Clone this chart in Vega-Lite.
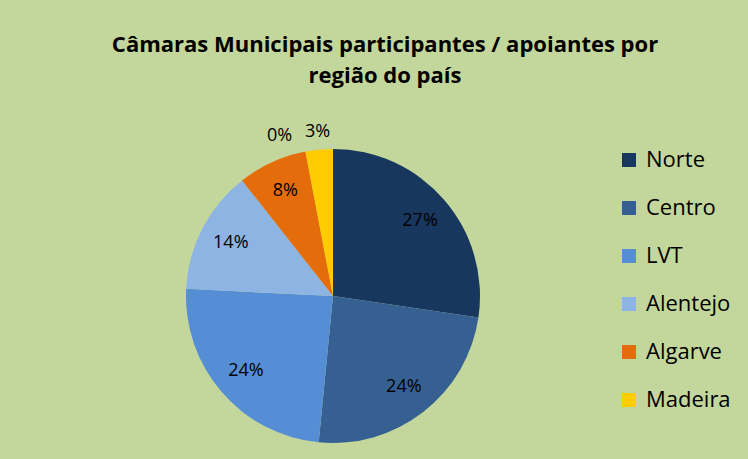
{
  "$schema": "https://vega.github.io/schema/vega-lite/v6.json",
  "autosize": {"type": "none"},
  "padding": {"left": 186, "top": 149, "right": 268, "bottom": 16},
  "width": 294,
  "height": 294,
  "background": "#C3D69B",
  "view": {"stroke": null},
  "title": {
    "text": ["Câmaras Municipais participantes / apoiantes por", "região do país"],
    "font": "Open Sans",
    "fontSize": 22,
    "fontWeight": "bold",
    "color": "#000000",
    "lineHeight": 31,
    "anchor": "middle",
    "dx": 52,
    "offset": 35
  },
  "data": {
    "values": [
      {"regiao": "Norte", "p": 0.273, "ord": 1},
      {"regiao": "Centro", "p": 0.242, "ord": 2},
      {"regiao": "LVT", "p": 0.242, "ord": 3},
      {"regiao": "Alentejo", "p": 0.136, "ord": 4},
      {"regiao": "Algarve", "p": 0.076, "ord": 5},
      {"regiao": "Açores", "p": 0.0, "ord": 6},
      {"regiao": "Madeira", "p": 0.03, "ord": 7}
    ]
  },
  "encoding": {
    "theta": {"field": "p", "type": "quantitative", "stack": true},
    "order": {"field": "ord", "type": "quantitative"}
  },
  "layer": [
    {
      "mark": {"type": "arc", "outerRadius": 147},
      "encoding": {
        "color": {
          "field": "regiao",
          "type": "nominal",
          "scale": {
            "domain": ["Norte", "Centro", "LVT", "Alentejo", "Algarve", "Açores", "Madeira"],
            "range": ["#17375E", "#366092", "#558ED5", "#8EB4E3", "#E46C0A", "#C0504D", "#FFCC00"]
          },
          "legend": {
            "values": ["Norte", "Centro", "LVT", "Alentejo", "Algarve", "Madeira"],
            "title": null,
            "orient": "right",
            "offset": 138,
            "padding": 0,
            "symbolType": "square",
            "symbolSize": 196,
            "symbolStrokeWidth": 0,
            "labelFont": "Open Sans",
            "labelFontSize": 22,
            "labelColor": "#000000",
            "labelOffset": 6,
            "rowPadding": 26
          }
        }
      }
    },
    {
      "mark": {"type": "text", "radius": 115, "font": "Open Sans", "fontSize": 18, "fill": "#000000"},
      "encoding": {
        "detail": {"field": "regiao", "type": "nominal"},
        "text": {
          "condition": {"test": "datum.p >= 0.05", "field": "p", "type": "quantitative", "format": ".0%"},
          "value": ""
        }
      }
    },
    {
      "mark": {"type": "text", "radius": 165, "font": "Open Sans", "fontSize": 18, "fill": "#000000"},
      "encoding": {
        "detail": {"field": "regiao", "type": "nominal"},
        "text": {
          "condition": {"test": "datum.p > 0 && datum.p < 0.05", "field": "p", "type": "quantitative", "format": ".0%"},
          "value": ""
        }
      }
    },
    {
      "mark": {"type": "text", "radius": 168, "dx": -22, "dy": 5, "font": "Open Sans", "fontSize": 18, "fill": "#000000"},
      "encoding": {
        "detail": {"field": "regiao", "type": "nominal"},
        "text": {
          "condition": {"test": "datum.p == 0", "field": "p", "type": "quantitative", "format": ".0%"},
          "value": ""
        }
      }
    }
  ]
}
